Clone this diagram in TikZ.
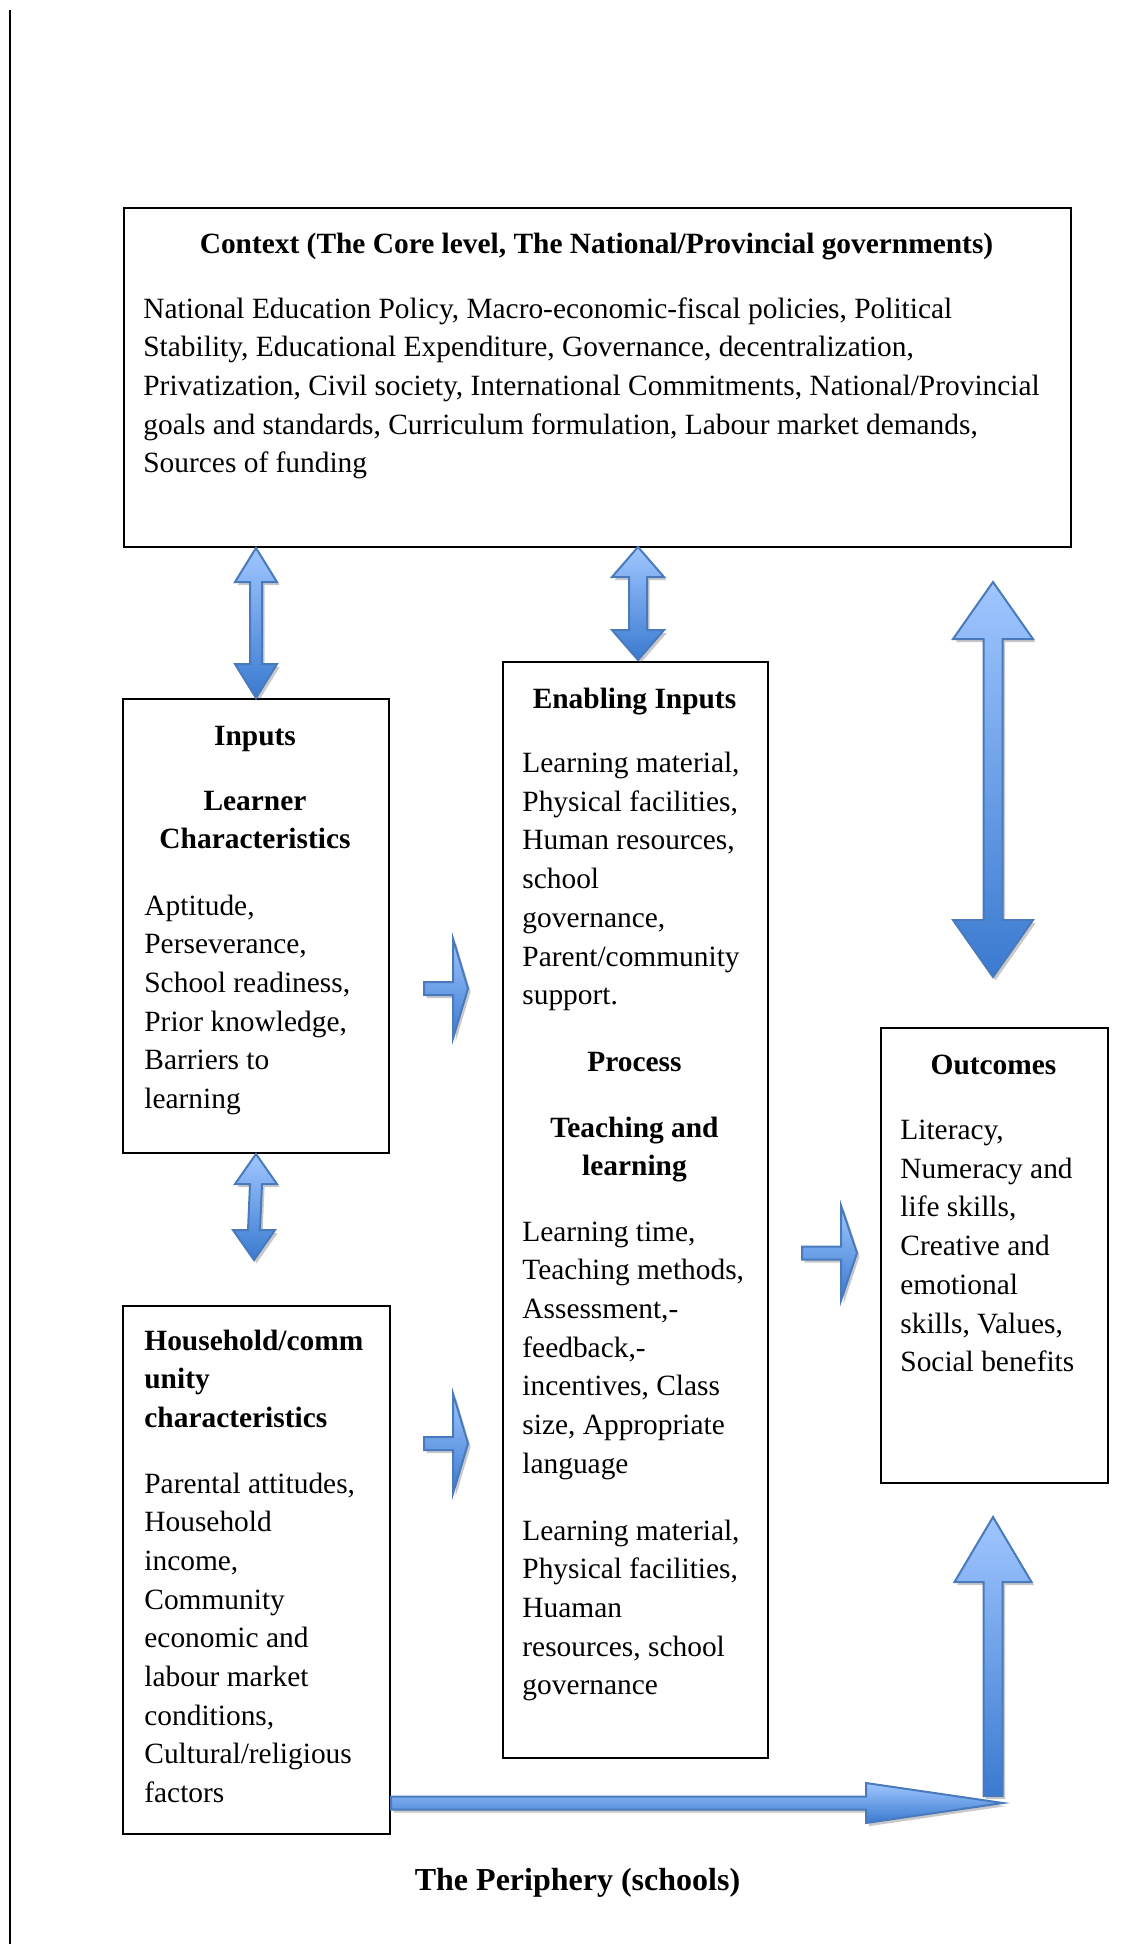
\documentclass[tikz,border=0pt]{standalone}
\usepackage{fontspec}
\setmainfont{Liberation Serif}
\usetikzlibrary{calc,shadows}
\definecolor{arrowline}{RGB}{72,122,188}
\definecolor{arrowtop}{RGB}{160,198,255}
\definecolor{arrowbot}{RGB}{58,122,208}
\newcommand{\VDArrow}[5]{% top tip, bottom tip, shaft half, head half, head length
  \path[blockarrow] (#1) -- ($(#1)+(#4,#5)$) -- ($(#1)+(#3,#5)$) -- ($(#2)+(#3,-#5)$) -- ($(#2)+(#4,-#5)$) -- (#2)
    -- ($(#2)+(-#4,-#5)$) -- ($(#2)+(-#3,-#5)$) -- ($(#1)+(-#3,#5)$) -- ($(#1)+(-#4,#5)$) -- cycle;}
\newcommand{\UpArrow}[5]{% tip, shaft bottom centre, shaft half, head half, head length
  \path[blockarrow] (#1) -- ($(#1)+(#4,#5)$) -- ($(#1)+(#3,#5)$) -- ($(#2)+(#3,0)$) -- ($(#2)+(-#3,0)$)
    -- ($(#1)+(-#3,#5)$) -- ($(#1)+(-#4,#5)$) -- cycle;}
\newcommand{\RtArrow}[5]{% shaft start centre, tip, shaft half, head half, head length
  \path[blockarrow] ($(#1)+(0,-#3)$) -- ($(#2)+(-#5,-#3)$) -- ($(#2)+(-#5,-#4)$) -- (#2) -- ($(#2)+(-#5,#4)$)
    -- ($(#2)+(-#5,#3)$) -- ($(#1)+(0,#3)$) -- cycle;}
\begin{document}
\begin{tikzpicture}[x=0.5pt,y=-0.5pt,
  box/.style={draw=black, line width=1pt, fill=white, anchor=north west, inner sep=0pt},
  bodytext/.style={font=\fontsize{14.7}{19.35}\selectfont, align=left, anchor=base west, inner sep=0pt},
  headtext/.style={font=\fontsize{14.7}{19.35}\selectfont\bfseries, align=center, anchor=base, inner sep=0pt},
  headleft/.style={font=\fontsize{14.7}{19.35}\selectfont\bfseries, align=left, anchor=base west, inner sep=0pt},
  blockarrow/.style={draw=arrowline, line width=1pt, line join=miter, top color=arrowtop, bottom color=arrowbot,
    drop shadow={opacity=0.3, shadow xshift=1.3pt, shadow yshift=-1.6pt, fill=black!70}}]
\fill[white] (0,0) rectangle (1136,1944);
\useasboundingbox (0,0) rectangle (1136,1944);

% page rule at the left
\coordinate (rt) at (10,10);
\coordinate (rb) at (10,1944);
\draw[line width=1pt] (rt) -- (rb);

% boxes
\node[box, minimum width=473.5pt, minimum height=169.5pt] (ctx) at (123,207) {};
\node[box, minimum width=133pt, minimum height=227pt] (inp) at (122,698) {};
\node[box, minimum width=132.5pt, minimum height=548pt] (enb) at (502,661) {};
\node[box, minimum width=113.5pt, minimum height=227.5pt] (out) at (880,1027) {};
\node[box, minimum width=133.5pt, minimum height=264pt] (hh) at (122,1305) {};

% (multi-line nodes are placed by the baseline of their last line)
% context
\node[headtext] (ctxh) at (596.5,253) {Context (The Core level, The National/Provincial governments)};
\node[bodytext] (ctxb) at (143,472.8) {National Education Policy, Macro-economic-fiscal policies, Political\\
Stability, Educational Expenditure, Governance, decentralization,\\
Privatization, Civil society, International Commitments, National/Provincial\\
goals and standards, Curriculum formulation, Labour market demands,\\
Sources of funding};

% inputs
\node[headtext] (inph1) at (255,745) {Inputs};
\node[headtext] (inph2) at (255,848.7) {Learner\\Characteristics};
\node[bodytext] (inpb) at (144,1108.5) {Aptitude,\\Perseverance,\\School readiness,\\Prior knowledge,\\Barriers to\\learning};

% enabling inputs
\node[headtext] (enbh1) at (634.5,708) {Enabling Inputs};
\node[bodytext] (enbb1) at (522,1004.7) {Learning material,\\Physical facilities,\\Human resources,\\school\\governance,\\Parent/community\\support.};
\node[headtext] (enbh2) at (634.5,1071) {Process};
\node[headtext] (enbh3) at (634.5,1175.7) {Teaching and\\learning};
\node[bodytext] (enbb2) at (522,1473.2) {Learning time,\\Teaching methods,\\Assessment,-\\feedback,-\\incentives, Class\\size, Appropriate\\language};
\node[bodytext] (enbb3) at (522,1694.8) {Learning material,\\Physical facilities,\\Huaman\\resources, school\\governance};

% outcomes
\node[headtext] (outh) at (993.5,1074) {Outcomes};
\node[bodytext] (outb) at (900,1371.7) {Literacy,\\Numeracy and\\life skills,\\Creative and\\emotional\\skills, Values,\\Social benefits};

% household
\node[headleft] (hhh) at (144,1427.4) {Household/comm\\unity\\characteristics};
\node[bodytext] (hhb) at (144,1802.6) {Parental attitudes,\\Household\\income,\\Community\\economic and\\labour market\\conditions,\\Cultural/religious\\factors};

% periphery label
\node[headtext, font=\fontsize{16}{19}\selectfont\bfseries] (peri) at (577.5,1890) {The Periphery (schools)};

% arrows
\coordinate (a1t) at (inp.north |- ctx.south);
\VDArrow{a1t}{inp.north}{6}{21}{34}
\coordinate (a2t) at ($(enb.north |- ctx.south)+(2.5,-1)$);
\coordinate (a2b) at ($(enb.north)+(2.5,-1)$);
\VDArrow{a2t}{a2b}{9}{26}{30}
\coordinate (a3t) at (993,582);
\coordinate (a3b) at (993,977);
\VDArrow{a3t}{a3b}{9.5}{40}{57}
\coordinate (a4t) at (inp.south);
\coordinate (a4b) at (254,1260);
\VDArrow{a4t}{a4b}{6}{21}{30}

\coordinate (r1s) at (424,988.5);
\coordinate (r1e) at (468,988.5);
\RtArrow{r1s}{r1e}{6.5}{50}{15}
\coordinate (r2s) at (424,1443.5);
\coordinate (r2e) at (468,1443.5);
\RtArrow{r2s}{r2e}{6.5}{50}{15}
\coordinate (r3s) at (802,1253);
\coordinate (r3e) at (857,1253);
\RtArrow{r3s}{r3e}{6.5}{47.5}{16}

\coordinate (upt) at (993,1517);
\coordinate (upb) at (993,1796);
\UpArrow{upt}{upb}{9.5}{38.5}{65}
\coordinate (bhs) at (hh.east |- 0,1803);
\coordinate (bhe) at (1003,1803);
\RtArrow{bhs}{bhe}{6.5}{20}{137}
\end{tikzpicture}
\end{document}
